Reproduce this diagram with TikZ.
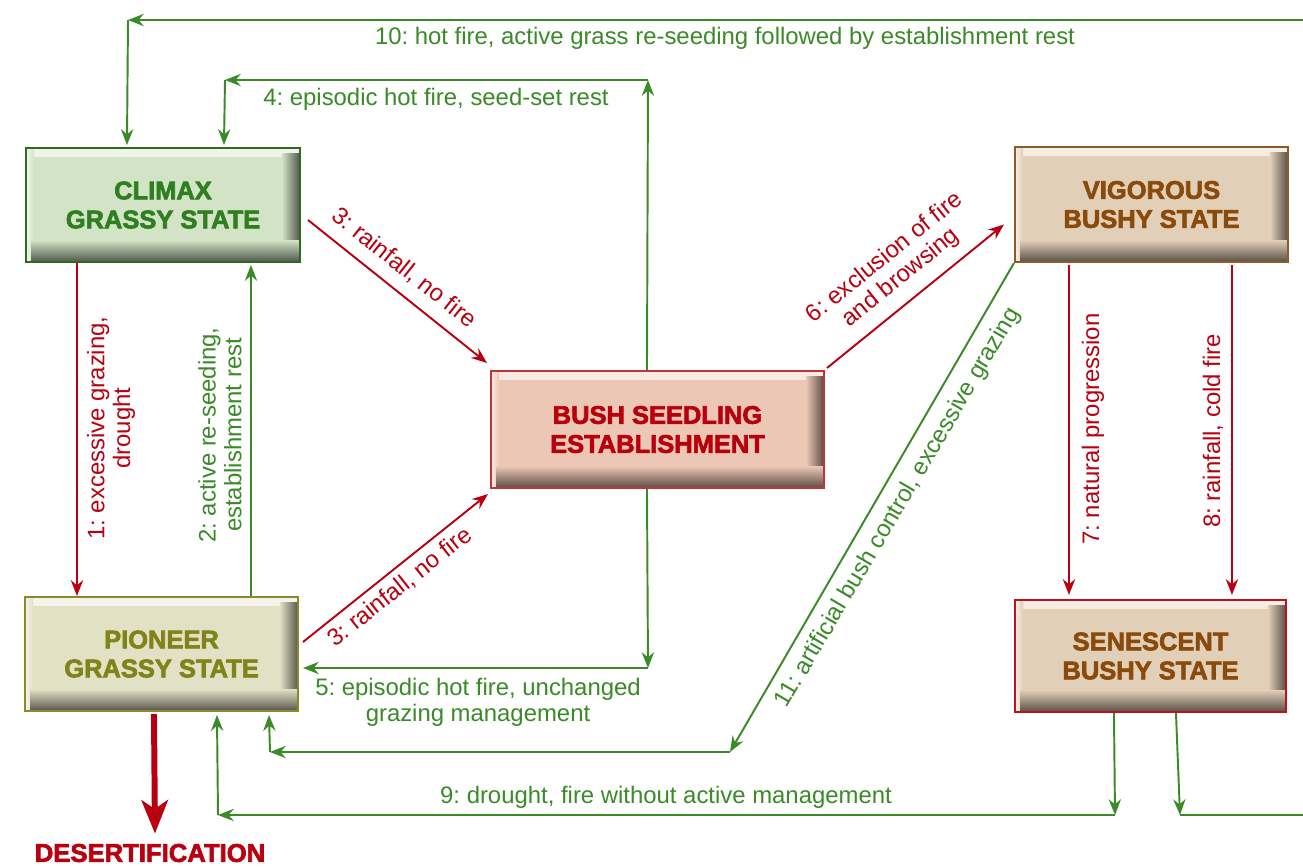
\documentclass[tikz,border=0pt]{standalone}
\usepackage{fontspec}
\setmainfont{Liberation Sans}
\newfontfamily\heavyfont{Liberation Sans}[BoldFeatures={FakeBold=2.5}]
\frenchspacing
\usetikzlibrary{arrows.meta,calc}
\definecolor{climaxfill}{HTML}{D2E3C6}
\definecolor{climaxline}{HTML}{2F6A22}
\definecolor{climaxtext}{HTML}{2F7F20}
\definecolor{pioneerfill}{HTML}{E2E0C5}
\definecolor{pioneerline}{HTML}{8A8A2A}
\definecolor{pioneertext}{HTML}{808418}
\definecolor{bushfill}{HTML}{EDC7B5}
\definecolor{bushline}{HTML}{C2323C}
\definecolor{bushtext}{HTML}{B8000C}
\definecolor{vigfill}{HTML}{E2CFB8}
\definecolor{vigline}{HTML}{8E5A28}
\definecolor{vigtext}{HTML}{8A4A0B}
\definecolor{senfill}{HTML}{E2CFB8}
\definecolor{senline}{HTML}{C0101C}
\definecolor{sentext}{HTML}{8A4A0B}
\definecolor{edgered}{HTML}{B80010}
\definecolor{edgegreen}{HTML}{3A8A28}
\newcommand\stboxfont{\fontsize{14.5}{16.5}\selectfont\heavyfont\bfseries}
\newcommand\edlabelfont{\fontsize{13.6}{14.6}\selectfont}
\tikzset{
  statebox/.style={rectangle, inner sep=0pt, line width=1.2pt, draw=#1line, fill=#1fill,
    text=#1text, font=\stboxfont, align=center,
    path picture={
      \shade[top color=#1fill!35!white, bottom color=#1fill]
        let \p1=(path picture bounding box.south west), \p2=(path picture bounding box.north east)
        in (\x1,\y2) rectangle (\x2,\y2-0.16cm);
      \shade[left color=#1fill!35!white, right color=#1fill]
        let \p1=(path picture bounding box.south west), \p2=(path picture bounding box.north east)
        in (\x1,\y1) rectangle (\x1+0.16cm,\y2);
      \shade[left color=#1fill, right color=#1fill!38!black]
        let \p1=(path picture bounding box.south west), \p2=(path picture bounding box.north east)
        in (\x2-0.36cm,\y1) rectangle (\x2,\y2-0.1cm);
      \shade[top color=#1fill, bottom color=#1fill!38!black]
        let \p1=(path picture bounding box.south west), \p2=(path picture bounding box.north east)
        in (\x1+0.1cm,\y1) rectangle (\x2,\y1+0.44cm);
    }},
  tipstyle/.style={-{Stealth[length=9pt,width=7pt,inset=3pt]}},
  redge/.style={draw=edgered, line width=1.1pt, tipstyle},
  gedge/.style={draw=edgegreen, line width=1.1pt, tipstyle},
  rlabel/.style={text=edgered, font=\edlabelfont, align=center, inner sep=0pt},
  glabel/.style={text=edgegreen, font=\edlabelfont, align=center, inner sep=0pt},
}
\begin{document}
\begin{tikzpicture}[x=0.02cm,y=-0.02cm]
\useasboundingbox[fill=white] (0,0) rectangle (1303,867);

% state boxes
\node[statebox=climax, minimum width=5.48cm, minimum height=2.28cm] (climax) at (163,205) {CLIMAX\\GRASSY STATE};
\node[statebox=pioneer, minimum width=5.46cm, minimum height=2.28cm] (pioneer) at (161.5,654) {PIONEER\\GRASSY STATE};
\node[statebox=bush, minimum width=6.66cm, minimum height=2.34cm] (bush) at (657.5,429.5) {BUSH SEEDLING\\ESTABLISHMENT};
\node[statebox=vig, minimum width=5.46cm, minimum height=2.30cm] (vigorous) at (1151.5,204.5) {VIGOROUS\\BUSHY STATE};
\node[statebox=sen, minimum width=5.42cm, minimum height=2.24cm] (senescent) at (1150.5,656) {SENESCENT\\BUSHY STATE};

\node[text=edgered, font=\fontsize{14.6}{17}\selectfont\heavyfont\bfseries, inner sep=0pt] (desert) at (150,853) {DESERTIFICATION};

% corner coordinates
\coordinate (c4a) at (648,80);
\coordinate (c4b) at (225,80);
\coordinate (c5) at (648,668);
\coordinate (c9a) at (1115,815);
\coordinate (c9b) at (218,815);
\coordinate (c10a) at (1180,815);
\coordinate (c10b) at (1325,815);
\coordinate (c10c) at (1325,20);
\coordinate (c10d) at (128,20);
\coordinate (c11a) at (730,752);
\coordinate (c11b) at (270,752);

% 1
\draw[redge] ($(climax.south west)+(52,0)$) -- ($(pioneer.north west)+(53,0)$);
% 2
\draw[gedge] ($(pioneer.north west)+(227,0)$) -- ($(climax.south west)+(226,2)$);
% 3 (upper and lower)
\draw[redge] ($(climax.east)+(7,15)$) -- ($(bush.north west)+(-3,-7)$);
\draw[redge] ($(pioneer.east)+(4,-12)$) -- ($(bush.south west)+(-2,5)$);
% 4
\draw[gedge] ($(bush.north west)+(157,0)$) -- (c4a);
\draw[gedge] (c4a) -- (c4b);
\draw[gedge] (c4b) -- ($(climax.north west)+(199,-2)$);
% 5
\draw[gedge] ($(bush.south west)+(157,0)$) -- (c5);
\draw[gedge] (c5) -- ($(pioneer.east |- c5)+(4,0)$);
% 6
\draw[redge] ($(bush.north east)+(2,-2)$) -- ($(vigorous.west)+(-10,20)$);
% 7, 8
\draw[redge] ($(vigorous.south west)+(55,2)$) -- ($(senescent.north west)+(55,-4)$);
\draw[redge] ($(vigorous.south west)+(218,2)$) -- ($(senescent.north west)+(218,-4)$);
% 9
\draw[gedge] ($(senescent.south west)+(100,0)$) -- (c9a);
\draw[gedge] (c9a) -- (c9b);
\draw[gedge] (c9b) -- ($(pioneer.south west)+(193,3)$);
% 10
\draw[gedge] ($(senescent.south west)+(162,0)$) -- (c10a);
\draw[gedge] (c10a) -- (c10b) -- (c10c) -- (c10d);
\draw[gedge] (c10d) -- ($(climax.north west)+(102,-2)$);
% 11
\draw[gedge] (vigorous.south west) -- (c11a);
\draw[gedge] (c11a) -- (c11b);
\draw[gedge] (c11b) -- ($(pioneer.south west)+(245,3)$);
% desertification
\draw[draw=edgered, line width=3.4pt, -{Stealth[length=19pt,width=15pt,inset=5pt]}]
  ($(pioneer.south west)+(130,2)$) -- ($(desert.north)+(5,-10)$);

% labels
\node[rlabel, rotate=90] (l1) at (111,428) {1: excessive grazing,\\drought};
\node[glabel, rotate=90] (l2) at (220,435) {2: active re-seeding,\\establishment rest};
\node[rlabel, rotate=-38.5] (l3a) at (404,268) {3: rainfall, no fire};
\node[rlabel, rotate=38.4] (l3b) at (400,587) {3: rainfall, no fire};
\node[glabel] (l4) at (436,99) {4: episodic hot fire, seed-set rest};
\node[glabel] (l5) at (478,702) {5: episodic hot fire, unchanged\\grazing management};
\node[rlabel, rotate=38.8] (l6) at (893,268) {6: exclusion of fire\\and browsing};
\node[rlabel, rotate=90] (l7) at (1093,429) {7: natural progression};
\node[rlabel, rotate=90] (l8) at (1213,431) {8: rainfall, cold fire};
\node[glabel] (l9) at (666,797) {9: drought, fire without active management};
\node[glabel] (l10) at (725,38) {10: hot fire, active grass re-seeding followed by establishment rest};
\node[glabel, rotate=59.5] (l11) at (898,508) {11: artificial bush control, excessive grazing};
\end{tikzpicture}
\end{document}
